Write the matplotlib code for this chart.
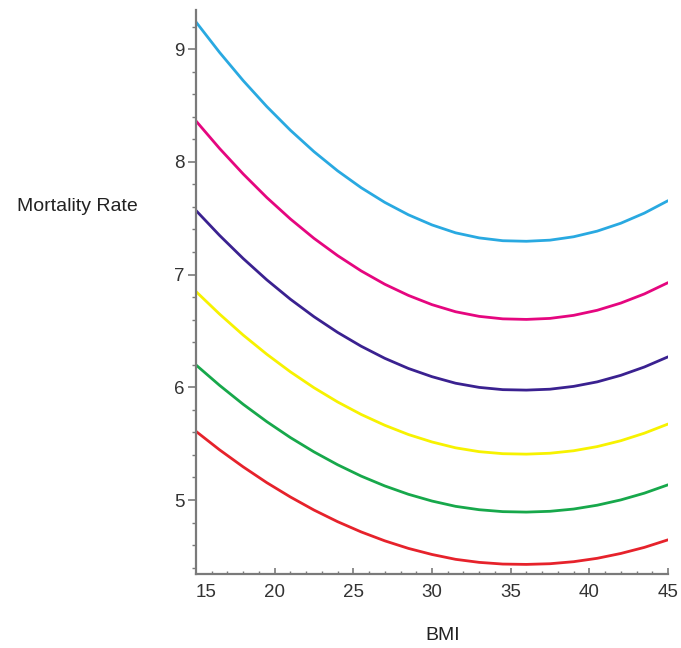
import numpy as np
import matplotlib.pyplot as plt
from matplotlib.ticker import MultipleLocator

plt.rcParams['font.family'] = ['Liberation Sans', 'DejaVu Sans']

# =============================================================================
# Data (every 1.5 BMI units)
# =============================================================================
bmi = [15, 16.5, 18, 19.5, 21, 22.5, 24, 25.5, 27, 28.5, 30,
       31.5, 33, 34.5, 36, 37.5, 39, 40.5, 42, 43.5, 45]

rate_blue    = [9.240, 8.970, 8.720, 8.490, 8.280, 8.090, 7.920, 7.770, 7.640, 7.530, 7.440,
                7.370, 7.325, 7.300, 7.295, 7.305, 7.335, 7.385, 7.455, 7.545, 7.655]
rate_magenta = [8.362, 8.118, 7.892, 7.683, 7.493, 7.321, 7.168, 7.032, 6.914, 6.815, 6.733,
                6.670, 6.629, 6.607, 6.602, 6.611, 6.638, 6.683, 6.747, 6.828, 6.928]
rate_purple  = [7.568, 7.347, 7.142, 6.953, 6.781, 6.626, 6.487, 6.364, 6.257, 6.167, 6.094,
                6.036, 5.999, 5.979, 5.975, 5.983, 6.008, 6.048, 6.106, 6.180, 6.270]
rate_yellow  = [6.849, 6.649, 6.463, 6.293, 6.137, 5.996, 5.870, 5.759, 5.663, 5.581, 5.515,
                5.463, 5.429, 5.411, 5.407, 5.415, 5.437, 5.474, 5.526, 5.593, 5.674]
rate_green   = [6.198, 6.017, 5.849, 5.695, 5.554, 5.427, 5.313, 5.212, 5.125, 5.051, 4.991,
                4.944, 4.914, 4.897, 4.893, 4.900, 4.920, 4.954, 5.001, 5.061, 5.135]
rate_red     = [5.609, 5.445, 5.294, 5.154, 5.027, 4.911, 4.808, 4.717, 4.638, 4.571, 4.517,
                4.474, 4.447, 4.432, 4.429, 4.435, 4.453, 4.483, 4.526, 4.580, 4.647]

x_ticks = [15, 20, 25, 30, 35, 40, 45]
y_ticks = [5, 6, 7, 8, 9]

# =============================================================================
# Plot
# =============================================================================
fig = plt.figure(figsize=(6.81, 6.48), dpi=100)
ax = fig.add_axes([0.2878, 0.1137, 0.6931, 0.8708])

series = [
    (rate_blue,    '#29a9e1'),
    (rate_magenta, '#e5067f'),
    (rate_purple,  '#3a2190'),
    (rate_yellow,  '#f7f200'),
    (rate_green,   '#17a84b'),
    (rate_red,     '#e6222b'),
]
for y, color in series:
    ax.plot(bmi, y, color=color, linewidth=2.0, solid_capstyle='round',
            solid_joinstyle='round')

ax.set_xlim(15, 45)
ax.set_ylim(4.341, 9.346)

for side in ['top', 'right']:
    ax.spines[side].set_visible(False)
for side in ['left', 'bottom']:
    ax.spines[side].set_color('#7a7a7a')
    ax.spines[side].set_linewidth(1.6)

ax.set_xticks(x_ticks)
ax.set_yticks(y_ticks)
ax.xaxis.set_minor_locator(MultipleLocator(1))
ax.yaxis.set_minor_locator(MultipleLocator(0.2))

ax.tick_params(axis='x', which='major', direction='in', length=4, width=1.2,
               color='#7a7a7a', labelsize=13.5, labelcolor='#333333', pad=7)
ax.tick_params(axis='x', which='minor', direction='in', length=2.5, width=1.0,
               color='#7a7a7a')
ax.tick_params(axis='y', which='major', direction='out', length=6, width=1.2,
               color='#7a7a7a', labelsize=13.5, labelcolor='#333333', pad=2)
ax.tick_params(axis='y', which='minor', direction='out', length=3, width=1.0,
               color='#7a7a7a')

# first x label sits to the right of the axis, as in the reference
ax.get_xticklabels()[0].set_horizontalalignment('left')

fig.text(0.025, 0.6806, "Mortality Rate", fontsize=14, color='#222222',
         ha='left', va='center')
fig.text(0.65, 0.02, "BMI", fontsize=14, color='#222222',
         ha='center', va='center')

plt.savefig("out.png", dpi=100)
